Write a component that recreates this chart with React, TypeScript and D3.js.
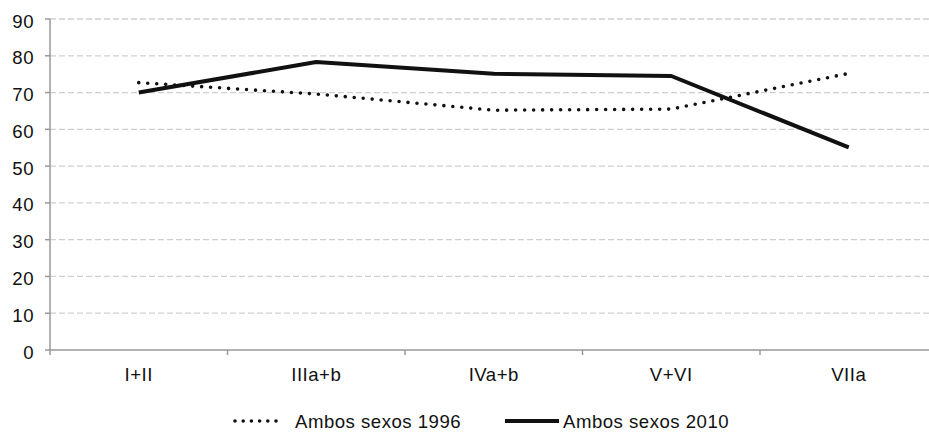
import React from "react";
import * as d3 from "d3";

const categories = ["I+II", "IIIa+b", "IVa+b", "V+VI", "VIIa"];
const series1996 = [72.7, 69.6, 65.2, 65.5, 75.2];
const series2010 = [70.0, 78.3, 75.1, 74.5, 55.1];
const yTicks = [0, 10, 20, 30, 40, 50, 60, 70, 80, 90];
const legendLabels = ["Ambos sexos 1996", "Ambos sexos 2010"];

const W = 929;
const H = 433;
const left = 50;
const right = 937.5;
const top = 19;
const bottom = 350;
const font = "'Liberation Sans', Arial, sans-serif";
const fs = 18.6;
const ls = 0.5;

export default function App() {
  const x = d3.scaleBand<string>().domain(categories).range([left, right]).padding(0);
  const y = d3.scaleLinear().domain([0, 90]).range([bottom, top]);
  const cx = (c: string) => (x(c) as number) + x.bandwidth() / 2;
  const line = d3
    .line<number>()
    .x((_, i) => cx(categories[i]))
    .y((d) => y(d));
  const xTickPos = categories.map((c) => x(c) as number).concat([right]);

  return (
    <svg width={W} height={H} style={{ position: "absolute", left: 0, top: 0, background: "#fff" }}>
      <rect width={W} height={H} fill="#fff" />
      {yTicks.slice(1).map((t) => (
        <line key={t} x1={left} x2={right} y1={y(t)} y2={y(t)} stroke="#cfcfcf" strokeWidth={1.3} strokeDasharray="6 3" />
      ))}
      <line x1={left} x2={left} y1={top} y2={bottom} stroke="#999" strokeWidth={1.5} />
      <line x1={left} x2={right} y1={bottom} y2={bottom} stroke="#999" strokeWidth={1.5} />
      {yTicks.map((t) => (
        <g key={t}>
          <line x1={left - 5} x2={left} y1={y(t)} y2={y(t)} stroke="#999" strokeWidth={1.5} />
          <text x={34} y={y(t) + 8.5} textAnchor="end" fontFamily={font} fontSize={fs} letterSpacing={ls} fill="#111">
            {t}
          </text>
        </g>
      ))}
      {xTickPos.map((p, i) => (
        <line key={i} x1={p} x2={p} y1={bottom} y2={bottom + 5} stroke="#999" strokeWidth={1.5} />
      ))}
      {categories.map((c) => (
        <text key={c} x={cx(c)} y={381} textAnchor="middle" fontFamily={font} fontSize={fs} letterSpacing={ls} fill="#111">
          {c}
        </text>
      ))}
      <path d={line(series1996) || ""} fill="none" stroke="#111" strokeWidth={3.6} strokeLinecap="round" strokeDasharray="0 9" />
      <path d={line(series2010) || ""} fill="none" stroke="#111" strokeWidth={4} strokeLinejoin="round" />
      <line x1={235} x2={284} y1={421} y2={421} stroke="#111" strokeWidth={3.6} strokeLinecap="round" strokeDasharray="0 8.2" />
      <text x={295} y={428} fontFamily={font} fontSize={fs} letterSpacing={ls} fill="#111">
        {legendLabels[0]}
      </text>
      <line x1={505} x2={559} y1={421} y2={421} stroke="#111" strokeWidth={4} />
      <text x={563} y={428} fontFamily={font} fontSize={fs} letterSpacing={ls} fill="#111">
        {legendLabels[1]}
      </text>
    </svg>
  );
}
